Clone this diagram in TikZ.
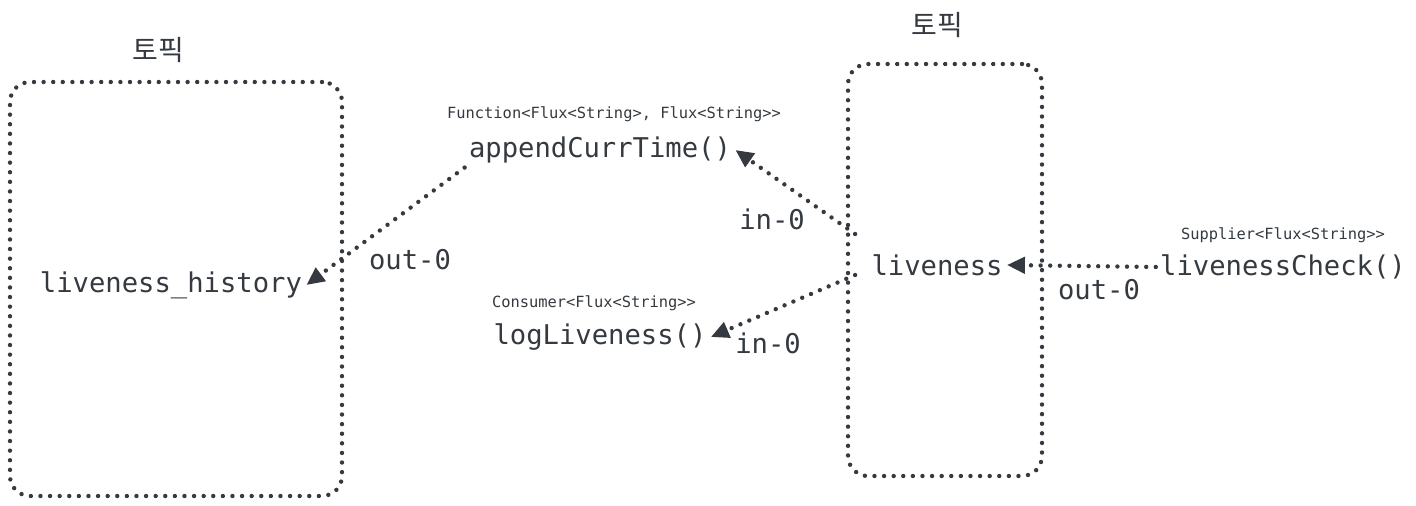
\documentclass[tikz,border=0pt]{standalone}
\usepackage{fontspec}
\setmonofont{DejaVu Sans Mono}
\newfontfamily\krfont{Noto Sans CJK KR}
\usepackage{tikz}
\usetikzlibrary{arrows.meta, positioning}
\definecolor{ink}{HTML}{343A40}
\tikzset{
    every node/.style={text=ink, inner sep=2pt, font=\ttfamily\fontsize{13.6}{16}\selectfont}, % names of topics and functions
    dots/.style={draw=ink, line width=2.2pt, line cap=round, dash pattern=on 0pt off 4.8pt}, % dotted lines of the sketch
    topic/.style={dots, rounded corners=10pt}, % box round a topic
    flow/.style={dots, -{Triangle[length=9pt, width=8pt]}}, % directed binding
    sig/.style={font=\ttfamily\fontsize{7.7}{9}\selectfont}, % type of a function
    head/.style={font=\krfont\fontsize{14}{16}\selectfont}, % heading over a topic
}

\begin{document}
\begin{tikzpicture}[x=0.5pt, y=-0.5pt]
    \useasboundingbox (0,0) rectangle (1416,505);
    \node[topic, minimum width=166pt, minimum height=207pt] (histbox) at (176,289) {};
    \node[topic, minimum width=97pt, minimum height=206pt] (livebox) at (945,270) {};
    \node[head] (histhead) at (158,50) {토픽};
    \node[head] (livehead) at (937,25) {토픽};
    \node (history) at (171,285) {liveness\_history};
    \node (liveness) at (937,265) {liveness};
    \node (append) at (600,150) {appendCurrTime()};
    \node (log) at (600,337) {logLiveness()};
    \node (check) at (1283,267) {livenessCheck()};
    \node[sig, above=3pt of append, xshift=7pt] (appendsig) {Function<Flux<String>, Flux<String>>};
    \node[sig, above=2pt of log, xshift=-3pt] (logsig) {Consumer<Flux<String>>};
    \node[sig, above=1.5pt of check] (checksig) {Supplier<Flux<String>>};
    \draw[flow] (append.south west) -- (history.east);
    \draw[flow] ([shift={(-12,-16)}]liveness.north west) -- (append.east);
    \draw[flow] ([shift={(-12,10)}]liveness.west) -- (log.east);
    \draw[flow] (check.west) -- (liveness.east);
    \node (outhist) at (410,260) {out-0};
    \node (inappend) at (772,219) {in-0};
    \node (inlog) at (768,343) {in-0};
    \node (outcheck) at (1099,290) {out-0};
\end{tikzpicture}
\end{document}
